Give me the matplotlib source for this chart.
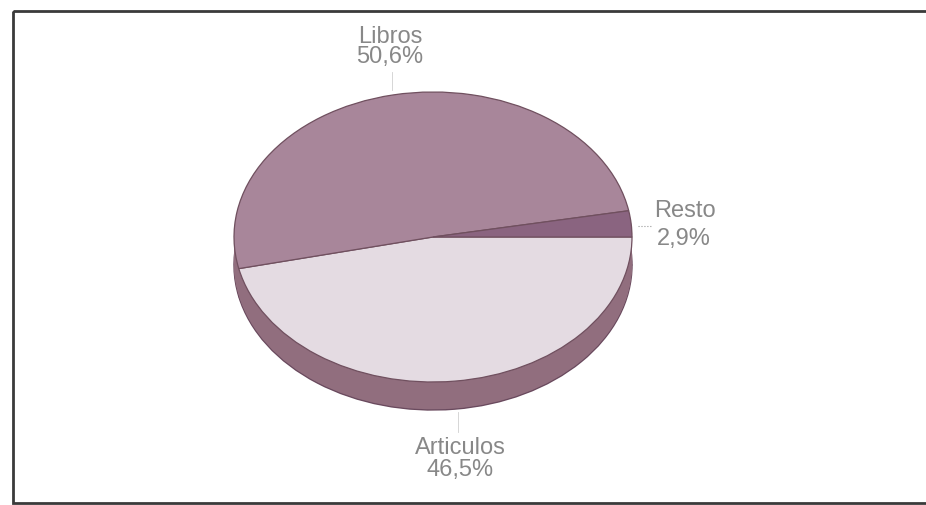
import matplotlib.pyplot as plt
from matplotlib.patches import Rectangle

# datos del grafico
labels = ['Articulos', 'Libros', 'Resto']
values = [46.5, 50.6, 2.9]
pct_labels = ['46,5%', '50,6%', '2,9%']
top_colors = ['#e4dbe2', '#a8869a', '#8a6480']
side_colors = ['#916e7e', '#916e7e', '#7c5870']

W, H = 926, 505
fig = plt.figure(figsize=(W / 100, H / 100), dpi=100)
fig.patch.set_facecolor('white')

# ejes de fondo en pixeles (y hacia abajo)
bg = fig.add_axes([0, 0, 1, 1])
bg.set_xlim(0, W)
bg.set_ylim(H, 0)
bg.axis('off')
bg.add_patch(Rectangle((13, 11), W, 492, fill=False, edgecolor='#3a3a3a', lw=2))

# pastel 3D: elipse de tapa + costado apilado
cx, cy, rx, ry, depth = 433, 237, 199, 145, 28
d = depth / ry
ax = fig.add_axes([(cx - rx) / W, (H - cy - ry - depth) / H, 2 * rx / W, (2 * ry + depth) / H])

n = 28
for k in range(n, 0, -1):
    off = d * k / n
    w, _ = ax.pie(values, colors=side_colors, startangle=0, counterclock=False,
                  center=(0, -off), radius=1,
                  wedgeprops=dict(edgecolor='none', linewidth=0))
    if k == n:
        for p in w:
            p.set_edgecolor('#6a4a5e')
            p.set_linewidth(1.0)

wedges, _ = ax.pie(values, colors=top_colors, startangle=0, counterclock=False,
                   center=(0, 0), radius=1,
                   wedgeprops=dict(edgecolor='#70505f', linewidth=0.9))
ax.set_aspect('auto')
ax.set_xlim(-1, 1)
ax.set_ylim(-1 - d, 1)
ax.axis('off')

# etiquetas
font = dict(family='Liberation Sans', fontsize=17, color='#888888')
bg.text(390, 37, labels[1], ha='center', va='center', **font)
bg.text(390, 57, pct_labels[1], ha='center', va='center', **font)
bg.text(654, 211, labels[2], ha='left', va='center', **font)
bg.text(657, 239, pct_labels[2], ha='left', va='center', **font)
bg.text(460, 448, labels[0], ha='center', va='center', **font)
bg.text(460, 470, pct_labels[0], ha='center', va='center', **font)

# lineas guia
bg.plot([638, 651], [226, 226], color='#9a9a9a', lw=0.8, ls=':')
bg.plot([392, 392], [72, 90], color='#d0d0d0', lw=0.6)
bg.plot([458, 458], [412, 432], color='#d0d0d0', lw=0.6)

fig.savefig('out.png', dpi=100, facecolor='white')
